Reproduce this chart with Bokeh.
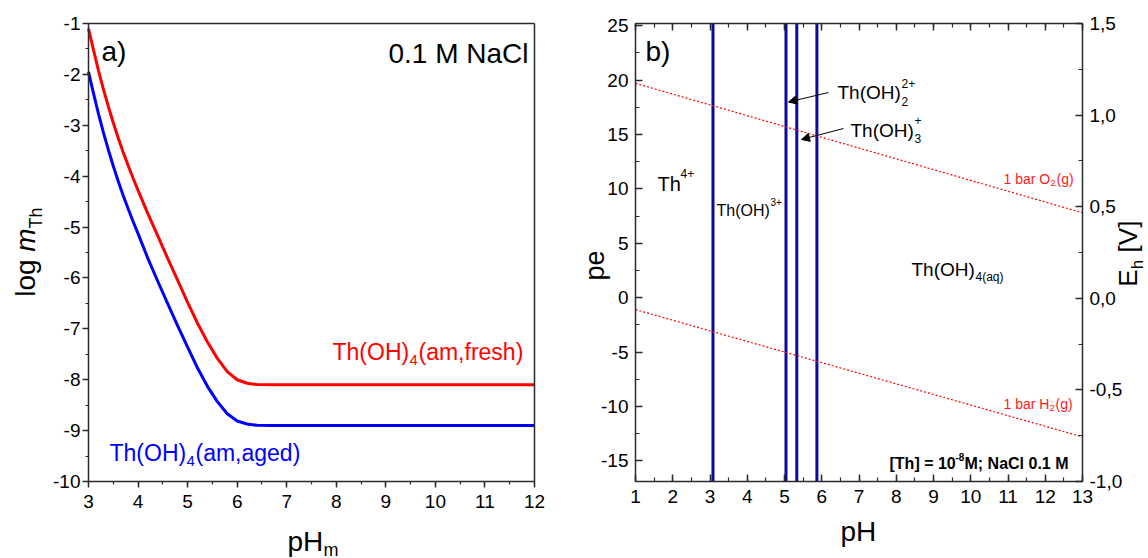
import math
from bokeh.plotting import figure
from bokeh.models import (Range1d, LinearAxis, SingleIntervalTicker, FixedTicker, Label,
                          Arrow, NormalHead, CustomJSTickFormatter, CustomLabelingPolicy)
from bokeh.layouts import row
from bokeh.embed import file_html
from bokeh.resources import INLINE

# ---------------- data: panel a) solubility curves ----------------
ph_fresh = [3.0, 3.1, 3.2, 3.3, 3.4, 3.5, 3.6, 3.7, 3.8, 3.9, 4.0, 4.2, 4.4, 4.6, 4.8,
            5.0, 5.2, 5.4, 5.6, 5.8, 6.0, 6.2, 6.4, 6.7, 12.0]
logm_fresh = [-1.10, -1.52, -1.92, -2.29, -2.63, -2.95, -3.25, -3.53, -3.79, -4.04, -4.28,
              -4.74, -5.18, -5.62, -6.05, -6.48, -6.89, -7.26, -7.58, -7.84, -8.00,
              -8.07, -8.095, -8.10, -8.10]
ph_aged = [3.0, 3.1, 3.2, 3.3, 3.4, 3.5, 3.6, 3.7, 3.8, 3.9, 4.0, 4.2, 4.4, 4.6, 4.8,
           5.0, 5.2, 5.4, 5.6, 5.8, 6.0, 6.2, 6.4, 6.7, 12.0]
logm_aged = [-1.95, -2.37, -2.77, -3.14, -3.48, -3.80, -4.10, -4.38, -4.64, -4.89, -5.13,
             -5.62, -6.07, -6.51, -6.94, -7.36, -7.77, -8.13, -8.43, -8.67, -8.81,
             -8.87, -8.895, -8.90, -8.90]

# ---------------- data: panel b) Pourbaix diagram ----------------
boundary_ph = [3.08, 5.04, 5.33, 5.87]
water_ph = [1.0, 13.0]
o2_pe = [19.7, 7.8]
h2_pe = [-1.1, -12.8]

PH_A = (3, 12)          # panel a x extent
LOGM = (-10, -1)        # panel a y extent
PH_B = (1, 13)          # panel b x extent
PE = (-16.9, 25.2)      # panel b pe extent
EH = (-1.0, 1.5)        # panel b Eh extent

FONT = "Liberation Sans"
AX = "#2b2b2b"
W, H = 574, 558
TICK_FS = "19px"

def mapper(d0, d1, p0, p1):
    return lambda px: d0 + (px - p0) * (d1 - d0) / (p1 - p0)

lx = mapper(PH_A[0], PH_A[1], 88, 534)
ly = mapper(LOGM[1], LOGM[0], 23, 481)
rx = mapper(PH_B[0], PH_B[1], 635, 1082)
ry = mapper(PE[1], PE[0], 23, 481)
reh = mapper(EH[1], EH[0], 23, 481)

def lab(p, x, y, text, size, color="black", align="left", style="normal"):
    p.add_layout(Label(x=x, y=y, text=text, text_font_size=f"{size}px", text_color=color,
                       text_align=align, text_baseline="alphabetic",
                       text_font_style=style, text_font=FONT))

def make_axis(loc, bounds, interval, minor, inward, major_len=7, minor_len=4,
              standoff=5, fmt="0", labels=True, range_name="default"):
    if interval is None:
        ticker = FixedTicker(ticks=[])
    else:
        ticker = SingleIntervalTicker(interval=interval, num_minor_ticks=minor)
    if fmt == "comma":
        formatter = CustomJSTickFormatter(code="return tick.toFixed(1).replace('.', ',');")
    else:
        formatter = CustomJSTickFormatter(code="return tick.toFixed(0);")
    kw = {} if range_name == "default" else {"y_range_name": range_name}
    ax = LinearAxis(fixed_location=loc, bounds=bounds, ticker=ticker, formatter=formatter, **kw)
    ax.major_label_text_font = FONT
    ax.major_label_text_font_size = TICK_FS
    ax.major_label_text_color = "black"
    ax.axis_line_color = AX
    ax.major_tick_line_color = AX
    ax.minor_tick_line_color = AX
    ax.axis_line_width = 1.5
    ax.major_tick_line_width = 1.5
    ax.minor_tick_line_width = 1.2
    if inward:
        ax.major_tick_in, ax.major_tick_out = major_len, 0
        ax.minor_tick_in, ax.minor_tick_out = minor_len, 0
    else:
        ax.major_tick_in, ax.major_tick_out = 0, major_len
        ax.minor_tick_in, ax.minor_tick_out = 0, minor_len
    ax.major_label_standoff = standoff
    if not labels:
        ax.major_label_policy = CustomLabelingPolicy(
            code="for (const i of indices) { if (false) yield i; }")
    return ax

def vtitle(p, loc, lo, hi, text, size, style="normal"):
    """Vertical (rotated) text drawn as the label of an invisible axis."""
    ax = LinearAxis(fixed_location=loc, bounds=(lo, hi), ticker=FixedTicker(ticks=[]))
    ax.axis_line_color = None
    ax.major_tick_line_color = None
    ax.minor_tick_line_color = None
    ax.major_label_standoff = 0
    ax.axis_label = text
    ax.axis_label_standoff = 0
    ax.axis_label_text_font = FONT
    ax.axis_label_text_font_size = f"{size}px"
    ax.axis_label_text_font_style = style
    ax.axis_label_text_color = "black"
    p.add_layout(ax, "left")

def base_fig(xr, yr):
    p = figure(width=W, height=H, x_range=xr, y_range=yr, output_backend="svg",
               toolbar_location=None, x_axis_location=None, y_axis_location=None,
               title_location=None, min_border=0, min_border_left=0, min_border_right=0,
               min_border_top=0, min_border_bottom=0)
    p.xgrid.grid_line_color = None
    p.ygrid.grid_line_color = None
    p.outline_line_color = None
    return p

# ================= panel a =================
p1 = base_fig(Range1d(lx(0), lx(574)), Range1d(ly(558), ly(0)))
p1.add_layout(make_axis(LOGM[0], PH_A, 1, 2, False, 6, 3, standoff=7), "below")
p1.add_layout(make_axis(PH_A[0], LOGM, 1, 2, False, 6, 3, standoff=2), "left")
p1.add_layout(make_axis(LOGM[1], PH_A, None, 0, False, labels=False), "above")
p1.add_layout(make_axis(PH_A[1], LOGM, None, 0, False, labels=False), "right")

p1.line(ph_fresh, logm_fresh, line_color="#ff0000", line_width=3)
p1.line(ph_aged, logm_aged, line_color="#0000ff", line_width=3)

lab(p1, lx(101), ly(51), "a)", 28)
lab(p1, lx(528), ly(53), "0.1 M NaCl", 28, align="right")
lab(p1, lx(332), ly(351), "Th(OH)", 23, color="#ff0000")
lab(p1, lx(409), ly(359), "4", 15, color="#ff0000")
lab(p1, lx(418), ly(351), "(am,fresh)", 23, color="#ff0000")
lab(p1, lx(109), ly(452), "Th(OH)", 23, color="#0000ff")
lab(p1, lx(186), ly(460), "4", 15, color="#0000ff")
lab(p1, lx(195), ly(452), "(am,aged)", 23, color="#0000ff")
# axis titles
lab(p1, lx(287), ly(541), "pH", 28)
lab(p1, lx(323), ly(549), "m", 18)
vtitle(p1, lx(40), ly(296), ly(259), "log", 28)
vtitle(p1, lx(40), ly(251), ly(228), "m", 28, style="italic")
vtitle(p1, lx(45), ly(228), ly(207), "Th", 18)

# ================= panel b =================
p2 = base_fig(Range1d(rx(574), rx(1148)), Range1d(ry(558), ry(0)))
p2.extra_y_ranges = {"eh": Range1d(reh(558), reh(0))}
p2.add_layout(make_axis(PE[0], PH_B, 1, 2, True, standoff=8), "below")
p2.add_layout(make_axis(PH_B[0], PE, 5, 2, True, standoff=7), "left")
p2.add_layout(make_axis(PE[1], PH_B, 1, 2, True, labels=False), "above")
p2.add_layout(make_axis(PH_B[1], EH, 0.5, 2, True, standoff=7, fmt="comma",
                        range_name="eh"), "right")

n = len(boundary_ph)
p2.segment(x0=boundary_ph, y0=[PE[0]] * n, x1=boundary_ph, y1=[PE[1]] * n,
           line_color="#0a0a9c", line_width=3)
p2.line(water_ph, o2_pe, line_color="#ff0000", line_width=1.2, line_dash="2 2")
p2.line(water_ph, h2_pe, line_color="#ff0000", line_width=1.2, line_dash="2 2")

lab(p2, rx(645), ry(51), "b)", 28)
lab(p2, rx(657), ry(183), "Th", 20)
lab(p2, rx(680), ry(173), "4+", 12)
lab(p2, rx(716), ry(210), "Th(OH)", 16)
lab(p2, rx(770), ry(201), "3+", 10)
lab(p2, rx(837), ry(92), "Th(OH)", 19)
lab(p2, rx(901), ry(83), "2+", 12)
lab(p2, rx(901), ry(101), "2", 12)
lab(p2, rx(850), ry(130), "Th(OH)", 19)
lab(p2, rx(914), ry(120), "+", 12)
lab(p2, rx(914), ry(138), "3", 12)
lab(p2, rx(911), ry(269), "Th(OH)", 19)
lab(p2, rx(975), ry(276), "4(aq)", 12)
p2.add_layout(Arrow(end=NormalHead(size=8, fill_color="black", line_color="black"),
                    x_start=rx(828), y_start=ry(92), x_end=rx(788), y_end=ry(101.5),
                    line_width=1, line_color="black"))
p2.add_layout(Arrow(end=NormalHead(size=8, fill_color="black", line_color="black"),
                    x_start=rx(843), y_start=ry(128), x_end=rx(801), y_end=ry(139),
                    line_width=1, line_color="black"))
RED = "#ff1a1a"
lab(p2, rx(1003), ry(178), "1 bar O", 14, color=RED)
lab(p2, rx(1050), ry(182), "2", 9.5, color=RED)
lab(p2, rx(1056), ry(178), "(g)", 14, color=RED)
lab(p2, rx(1003), ry(403), "1 bar H", 14, color=RED)
lab(p2, rx(1049), ry(407), "2", 9.5, color=RED)
lab(p2, rx(1055), ry(403), "(g)", 14, color=RED)
lab(p2, rx(889), ry(463), "[Th] = 10", 16, style="bold")
lab(p2, rx(955), ry(456), "-8", 10, style="bold")
lab(p2, rx(964), ry(463), "M; NaCl 0.1 M", 16, style="bold")
# axis titles
lab(p2, rx(840), ry(531), "pH", 28)
vtitle(p2, rx(609), ry(280), ry(250), "pe", 27)
vtitle(p2, rx(1142), ry(286), ry(268.7), "E", 26)
vtitle(p2, rx(1146), ry(268.7), ry(259.2), "h", 17)
vtitle(p2, rx(1142), ry(252), ry(220.2), "[V]", 26)

layout = row(p1, p2)
with open("out.html", "w") as f:
    f.write(file_html(layout, INLINE))
